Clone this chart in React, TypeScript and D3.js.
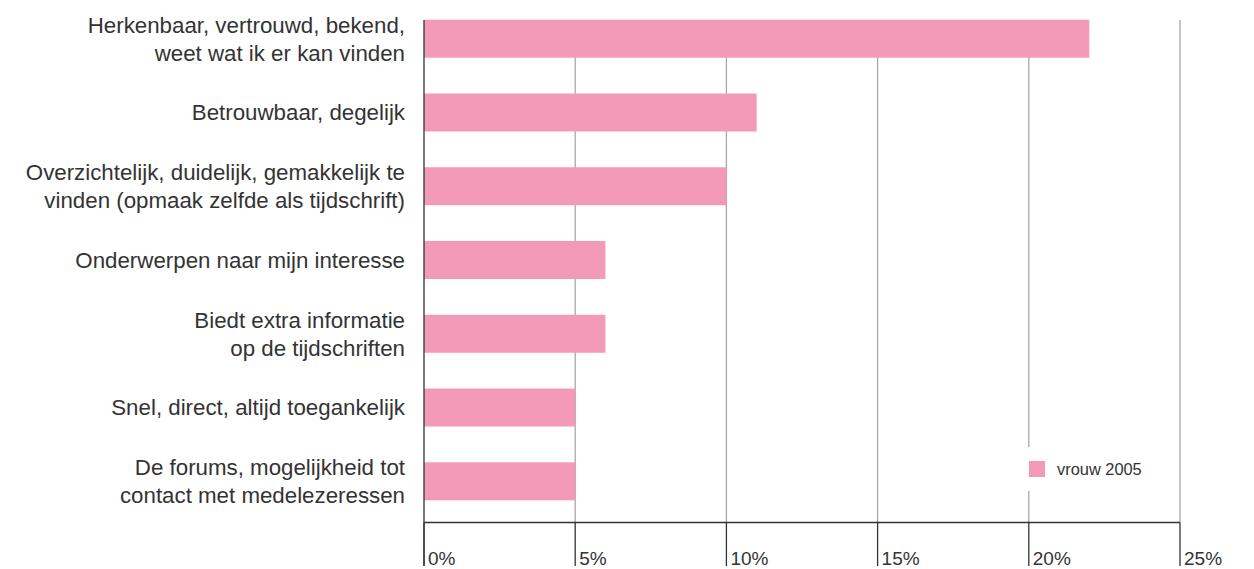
import React from "react";
import * as d3 from "d3";

const categories: string[][] = [
  ["Herkenbaar, vertrouwd, bekend,", "weet wat ik er kan vinden"],
  ["Betrouwbaar, degelijk"],
  ["Overzichtelijk, duidelijk, gemakkelijk te", "vinden (opmaak zelfde als tijdschrift)"],
  ["Onderwerpen naar mijn interesse"],
  ["Biedt extra informatie", "op de tijdschriften"],
  ["Snel, direct, altijd toegankelijk"],
  ["De forums, mogelijkheid tot", "contact met medelezeressen"],
];
const values: number[] = [22, 11, 10, 6, 6, 5, 5];
const ticks: number[] = [0, 5, 10, 15, 20, 25];
const seriesName = "vrouw 2005";

const W = 1254;
const H = 569;
const FONT = "'Liberation Sans', Arial, sans-serif";

export default function App() {
  const x = d3.scaleLinear().domain([0, 25]).range([424, 1180]);
  const idx = categories.map((_, i) => String(i));
  const y = d3.scaleBand().domain(idx).range([2, 518]).paddingInner(0.485).paddingOuter(0.24);
  const axisY = 522.5;
  const top = 20;
  const lineH = 28;
  const bw = y.bandwidth();
  return (
    <svg width={W} height={H} style={{ position: "absolute", left: 0, top: 0, background: "#fff" }}>
      {ticks.map((t) =>
        t === 0 ? null : (
          <line key={"g" + t} x1={x(t)} x2={x(t)} y1={top} y2={axisY} stroke="#a8a8a8" strokeWidth={1.3} />
        )
      )}
      {values.map((v, i) => (
        <rect key={"b" + i} x={x(0)} y={y(String(i))} width={x(v) - x(0)} height={bw} fill="#F49AB9" />
      ))}
      <line x1={x(0)} x2={x(25)} y1={axisY} y2={axisY} stroke="#333" strokeWidth={1.3} />
      <line x1={x(0)} x2={x(0)} y1={top} y2={H - 3} stroke="#333" strokeWidth={1.3} />
      {ticks.map((t) => (
        <g key={"t" + t}>
          <line x1={x(t)} x2={x(t)} y1={axisY} y2={H - 3} stroke="#333" strokeWidth={1.3} />
          <text x={x(t) + 4} y={H - 4} fontFamily={FONT} fontSize={19} fill="#333">
            {t}%
          </text>
        </g>
      ))}
      {categories.map((lines, i) => {
        const cy = (y(String(i)) as number) + bw / 2;
        const start = cy - ((lines.length - 1) * lineH) / 2;
        return (
          <text key={"c" + i} textAnchor="end" fontFamily={FONT} fontSize={22.3} fill="#333">
            {lines.map((l, j) => (
              <tspan key={j} x={405} y={start + j * lineH} dy="0.35em">
                {l}
              </tspan>
            ))}
          </text>
        );
      })}
      <rect x={1020} y={447} width={140} height={44} fill="#fff" />
      <rect x={1029} y={461} width={16} height={16} fill="#F49AB9" />
      <text x={1057} y={469} dy="0.35em" fontFamily={FONT} fontSize={16.4} fill="#333">
        {seriesName}
      </text>
    </svg>
  );
}
